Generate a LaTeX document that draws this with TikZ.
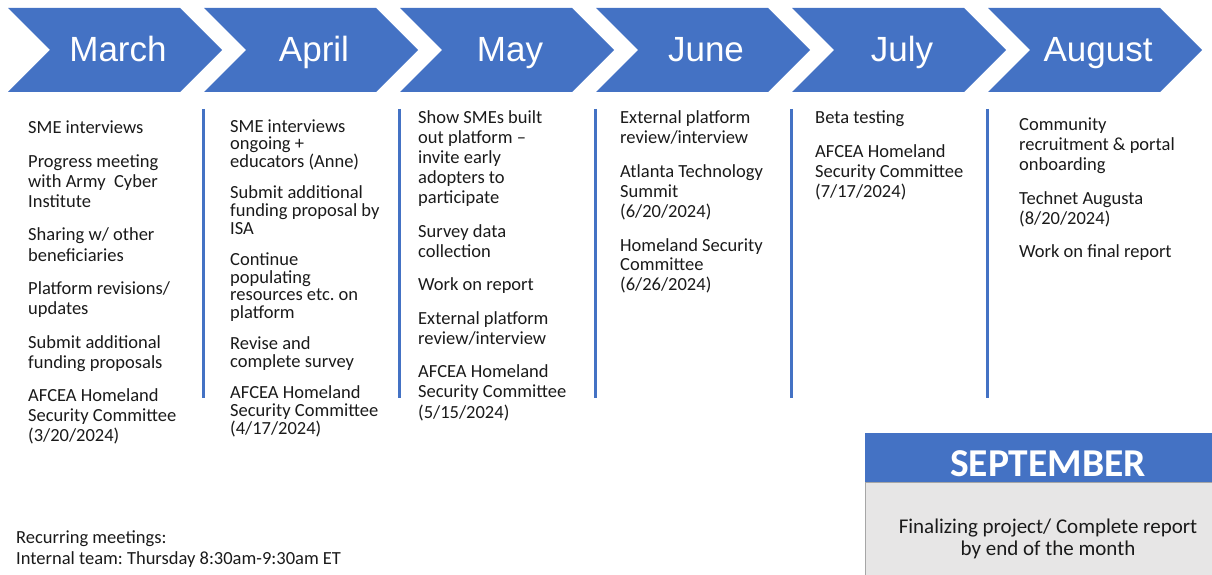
\documentclass[tikz,border=0pt]{standalone}
\usepackage{fontspec}
\setmainfont{Carlito}
\newfontfamily\arialfont{Liberation Sans}
\definecolor{accentblue}{HTML}{4472C4}
\definecolor{panelgray}{HTML}{E7E6E6}
\definecolor{bodytext}{HTML}{1A1A1A}
\frenchspacing

% A column of task paragraphs; #1 is the line spacing, #2 the paragraphs
\newcommand{\taskcolumn}[2]{%
  \parbox[t]{200pt}{\fontsize{18.5}{#1}\selectfont
    \lineskiplimit=-100pt\setlength{\parskip}{13.5pt}\raggedright #2}}

\tikzset{
  chevronshape/.style={fill=accentblue, draw=none},
  monthlabel/.style={text=white, anchor=base, inner sep=0pt,
    font=\arialfont\fontsize{35}{35}\selectfont},
  tasklist/.style={anchor=base west, inner sep=0pt, text=bodytext},
  divider/.style={draw=accentblue, line width=2.5pt},
  footnote/.style={anchor=base west, inner sep=0pt, text=bodytext,
    font=\fontsize{18.5}{20}\selectfont},
}

\begin{document}
\begin{tikzpicture}[x=1pt, y=-1pt]
\useasboundingbox (0,0) rectangle (1212,575);

% month chevrons
\foreach \name/\lbl [count=\i from 0] in
  {march/March, april/April, may/May, june/June, july/July, august/August} {
  \pgfmathsetmacro{\L}{8+196*\i}
  \fill[chevronshape] (\L,8) -- (\L+172,8) -- (\L+214,50) -- (\L+172,92)
    -- (\L,92) -- (\L+42,50) -- cycle;
  \node[monthlabel] (\name) at (\L+110,62) {\lbl};
}

% column dividers
\foreach \i in {1,...,5} {
  \pgfmathsetmacro{\X}{7.5+196*\i}
  \draw[divider] (\X,109) -- (\X,398);
}

% tasks per month
\node[tasklist] (marchtasks) at (28,134) {\taskcolumn{20pt}{%
  SME interviews\par
  Progress meeting\\with Army~ Cyber\\Institute\par
  Sharing w/ other\\beneficiaries\par
  Platform revisions/\\updates\par
  Submit additional\\funding proposals\par
  AFCEA Homeland\\Security Committee\\(3/20/2024)}};

\node[tasklist] (apriltasks) at (230,132.3) {\taskcolumn{17.7pt}{%
  SME interviews\\ongoing +\\educators (Anne)\par
  Submit additional\\funding proposal by\\ISA\par
  Continue\\populating\\resources etc. on\\platform\par
  Revise and\\complete survey\par
  AFCEA Homeland\\Security Committee\\(4/17/2024)}};

\node[tasklist] (maytasks) at (418,124) {\taskcolumn{20pt}{%
  Show SMEs built\\out platform –\\invite early\\adopters to\\participate\par
  Survey data\\collection\par
  Work on report\par
  External platform\\review/interview\par
  AFCEA Homeland\\Security Committee\\(5/15/2024)}};

\node[tasklist] (junetasks) at (620,124) {\taskcolumn{20pt}{%
  External platform\\review/interview\par
  Atlanta Technology\\Summit\\(6/20/2024)\par
  Homeland Security\\Committee\\(6/26/2024)}};

\node[tasklist] (julytasks) at (815,124) {\taskcolumn{20pt}{%
  Beta testing\par
  AFCEA Homeland\\Security Committee\\(7/17/2024)}};

\node[tasklist] (augusttasks) at (1019,130.7) {\taskcolumn{20pt}{%
  Community\\recruitment \& portal\\onboarding\par
  Technet Augusta\\(8/20/2024)\par
  Work on final report}};

% September panel
\fill[accentblue] (865,433) rectangle (1232,482);
\filldraw[fill=panelgray, draw=gray!70, line width=0.8pt] (865.4,482) rectangle (1232,580);
\node[anchor=base, inner sep=0pt, text=white,
  font=\bfseries\fontsize{39.5}{39.5}\selectfont] (september) at (1048,476.7) {SEPTEMBER};
\node[anchor=base, inner sep=0pt, text=bodytext] (septembertask) at (1048,533.3)
  {\parbox[t]{340pt}{\centering\fontsize{21}{21.7}\selectfont\lineskiplimit=-100pt
   Finalizing project/ Complete report\\by end of the month}};

% recurring meetings note
\node[footnote] (recurring) at (16,543) {Recurring meetings:};
\node[footnote] (internal) at (16,564) {Internal team: Thursday 8:30am-9:30am ET};
\end{tikzpicture}
\end{document}
